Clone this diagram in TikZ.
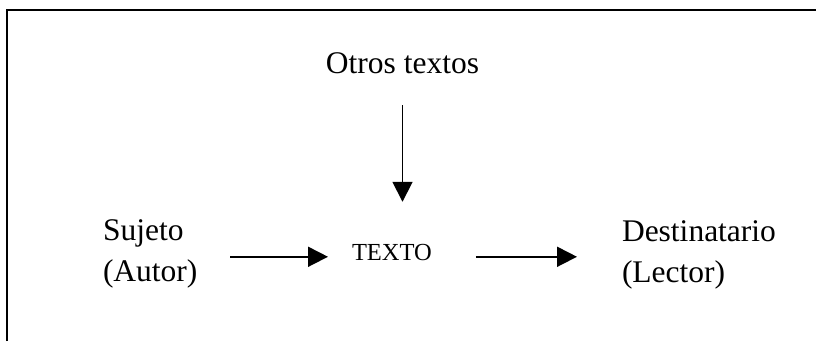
\documentclass[tikz,border=0pt]{standalone}
\usepackage{fontspec}
\setmainfont{Liberation Serif}
\usetikzlibrary{arrows.meta}
\begin{document}
\begin{tikzpicture}[x=1pt,y=-1pt,
  label/.style={inner sep=0pt, outer sep=0pt, font=\fontsize{31.5}{41}\selectfont, align=left},
  small/.style={inner sep=0pt, outer sep=0pt, font=\fontsize{24.5}{28}\selectfont},
  flow/.style={line width=1.8pt, -{Triangle[length=20pt,width=20pt]}}]
\useasboundingbox (0,0) rectangle (816,341);
% open frame: top and left edges only
\draw[line width=2.8pt] (7,341) -- (7,10) -- (816,10);

\node[label, anchor=base] (otros) at (402.5,73) {Otros textos};
\node[label, anchor=north west] (sujeto) at (103,220) {Sujeto\\(Autor)};
\node[small, anchor=base west] (texto) at (352,260) {TEXTO};
\node[label, anchor=north west] (dest) at (622,221) {Destinatario\\(Lector)};

\draw[flow, shorten <=32pt] (otros.south) -- ([yshift=42pt]otros.south |- texto.north);
\draw[flow] ([xshift=33pt,yshift=-2.5pt]sujeto.east) -- ([xshift=-24pt,yshift=-2.5pt]sujeto.east -| texto.west);
\draw[flow] ([xshift=44pt,yshift=-2.5pt]sujeto.east -| texto.east) -- ([xshift=-45pt,yshift=-2.5pt]sujeto.east -| dest.west);
\end{tikzpicture}
\end{document}
